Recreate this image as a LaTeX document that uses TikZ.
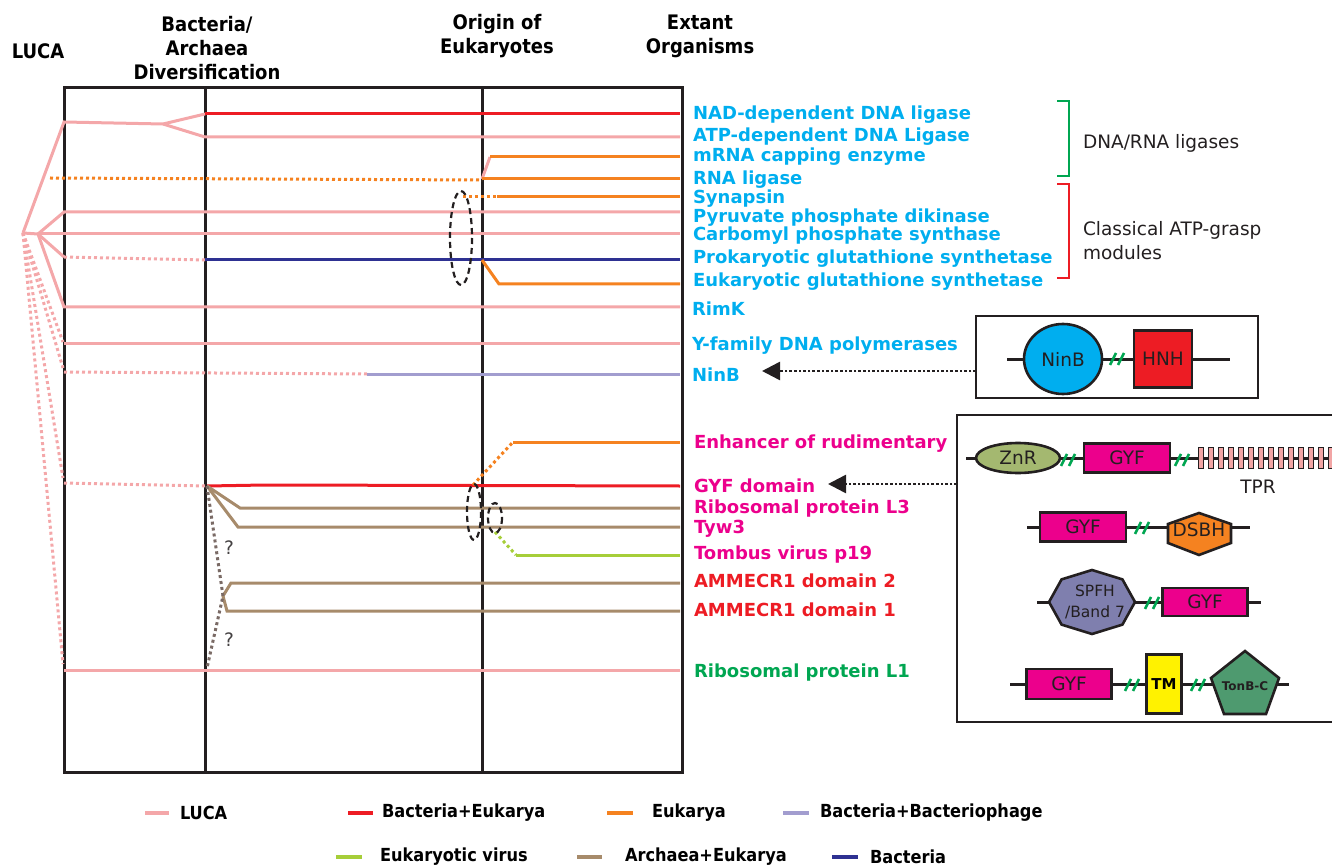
\documentclass[tikz,border=0pt]{standalone}
\usepackage{fontspec}
\setmainfont{DejaVu Sans}
\newfontfamily\condfont{DejaVu Sans Condensed}
\usetikzlibrary{shapes.geometric,arrows.meta}
\definecolor{frame}{HTML}{231F20}
\definecolor{luca}{HTML}{F4A7A9}
\definecolor{bacred}{HTML}{ED1C24}
\definecolor{euk}{HTML}{F58220}
\definecolor{phage}{HTML}{A29DCF}
\definecolor{virus}{HTML}{A6CE39}
\definecolor{arch}{HTML}{A78B6B}
\definecolor{bact}{HTML}{2E3192}
\definecolor{taupe}{HTML}{7A6A65}
\definecolor{lblue}{HTML}{00AEEF}
\definecolor{lmag}{HTML}{EC008C}
\definecolor{lgreen}{HTML}{00A651}
\definecolor{znr}{HTML}{A4B870}
\definecolor{tprpink}{HTML}{F2A5A5}
\definecolor{spfh}{HTML}{7F7FAE}
\definecolor{tonb}{HTML}{4E9A6F}
\definecolor{tmyel}{HTML}{FFF200}
\begin{document}
\begin{tikzpicture}[x=1pt,y=-1pt,
	every node/.style={inner sep=0pt,outer sep=0pt},
	hdr/.style={align=center,font=\condfont\bfseries\fontsize{20}{24}\selectfont},
	lbl/.style={anchor=west,text height=13pt,text depth=0pt,font=\bfseries\fontsize{18}{18}\selectfont},
	lgd/.style={anchor=west,font=\condfont\bfseries\fontsize{18}{18}\selectfont},
	dom/.style={font=\fontsize{18.5}{18.5}\selectfont,text=frame},
	dbox/.style={draw=frame,line width=2.6pt},
	chain/.style={draw=frame,line width=3pt},
	gyfbox/.style={dom,dbox,fill=lmag,minimum width=86pt,minimum height=29pt},
	tpr/.style={draw=frame,line width=1.2pt,fill=tprpink,minimum width=5pt,minimum height=21pt},
	trk/.style={line width=3pt},
	dotln/.style={line width=3pt,dash pattern=on 3pt off 3pt},
	swatch/.style={line width=4pt},
	frm/.style={line width=3pt,draw=frame},
	ring/.style={line width=2.2pt,dash pattern=on 6pt off 4pt,draw=frame},
	pointer/.style={line width=2.6pt,dash pattern=on 2.6pt off 2pt,draw=frame,-{Triangle[length=18pt,width=18pt]}},
	brk/.pic={\draw[lgreen,line width=2.6pt] (-7,6) -- (-1,-6) (1,6) -- (7,-6);}
]
\useasboundingbox (0,0) rectangle (1332,866);
% time columns
\node[hdr] (hluca) at (38,51) {LUCA};
\node[hdr] (hdiv) at (207,48) {Bacteria/\\Archaea\\Diversification};
\node[hdr] (horig) at (497,36) {Origin of\\Eukaryotes};
\node[hdr] (hext) at (700,36) {Extant\\Organisms};
\draw[frm] (64,88) rectangle (682,772);
\draw[frm] (205,88) -- (205,772) (482,88) -- (482,772);
% branch points
\coordinate (A) at (23,233);
\coordinate (B) at (38,234);
\coordinate (F) at (163,124);
\coordinate (G) at (207,486);
% upper group
\draw[trk,luca] (A) -- (64,122) -- (F) -- (205,114);
\draw[trk,bacred] (205,114) -- (680,114);
\draw[trk,luca] (F) -- (205,137) -- (680,137);
\draw[trk,luca] (482,179) -- (490,157);
\draw[trk,euk] (490,157) -- (680,157);
\draw[dotln,euk] (50,178) -- (482,180);
\draw[trk,euk] (482,179) -- (680,179);
\draw[dotln,euk] (463,197) -- (497,197);
\draw[trk,euk] (497,197) -- (680,197);
\draw[trk,luca] (A) -- (B);
\draw[trk,luca] (B) -- (64,212) -- (680,212);
\draw[trk,luca] (B) -- (64,234) -- (680,234);
\draw[trk,luca] (B) -- (64,257);
\draw[dotln,luca] (64,257) -- (205,260);
\draw[trk,bact] (205,260) -- (680,260);
\draw[trk,euk] (482,260) -- (499,284) -- (680,284);
\draw[trk,luca] (B) -- (64,307) -- (680,307);
\draw[dotln,luca] (A) -- (63,342);
\draw[trk,luca] (64,343) -- (680,343);
\draw[dotln,luca] (A) -- (63,368);
\draw[dotln,luca] (64,372) -- (367,374);
\draw[trk,phage] (367,374) -- (680,374);
\draw[ring] (461,238) ellipse [x radius=11, y radius=47];
% lower group
\draw[dotln,luca] (A) -- (63,478);
\draw[dotln,luca] (64,483) -- (G);
\draw[trk,bacred] (G) -- (265,485) -- (680,486);
\draw[trk,arch] (G) -- (240,508) -- (680,508);
\draw[trk,arch] (G) -- (238,527) -- (680,527);
\draw[dotln,euk] (473,485) -- (513,442);
\draw[trk,euk] (513,442) -- (680,442);
\draw[dotln,virus] (495,532) -- (516,555);
\draw[trk,virus] (516,555) -- (680,555);
\draw[trk,arch] (680,583) -- (231,583) -- (223,596) -- (227,611) -- (680,611);
\draw[dotln,taupe] (G) -- (223,596) -- (207,668);
\draw[dotln,luca] (A) -- (63,664);
\draw[trk,luca] (64,670) -- (680,670);
\node[dom,text=frame!85] (q1) at (229,548) {?};
\node[dom,text=frame!85] (q2) at (229,640) {?};
\draw[ring] (474,512) ellipse [x radius=7, y radius=28];
\draw[ring] (495,518) ellipse [x radius=7, y radius=15];
% extant proteins
\node[lbl,lblue] (nad) at (693,113) {NAD-dependent DNA ligase};
\node[lbl,lblue] (atp) at (693,135) {ATP-dependent DNA Ligase};
\node[lbl,lblue] (mrna) at (693,155) {mRNA capping enzyme};
\node[lbl,lblue] (rnalig) at (693,178) {RNA ligase};
\node[lbl,lblue] (syn) at (693,197) {Synapsin};
\node[lbl,lblue] (ppdk) at (693,216) {Pyruvate phosphate dikinase};
\node[lbl,lblue] (cps) at (693,234) {Carbomyl phosphate synthase};
\node[lbl,lblue] (pgs) at (693,257) {Prokaryotic glutathione synthetase};
\node[lbl,lblue] (egs) at (693,280) {Eukaryotic glutathione synthetase};
\node[lbl,lblue] (rimk) at (692,309) {RimK};
\node[lbl,lblue] (ypol) at (692,344) {Y-family DNA polymerases};
\node[lbl,lblue] (ninb) at (692,375) {NinB};
\node[lbl,lmag] (enh) at (694,442) {Enhancer of rudimentary};
\node[lbl,lmag] (gyf) at (694,486) {GYF domain};
\node[lbl,lmag] (rpl3) at (694,507) {Ribosomal protein L3};
\node[lbl,lmag] (tyw) at (694,527) {Tyw3};
\node[lbl,lmag] (tomb) at (694,553) {Tombus virus p19};
\node[lbl,bacred] (amm2) at (694,581) {AMMECR1 domain 2};
\node[lbl,bacred] (amm1) at (694,610) {AMMECR1 domain 1};
\node[lbl,lgreen] (rpl1) at (694,671) {Ribosomal protein L1};
% families
\draw[lgreen,line width=1.6pt] (1057,101) -- (1069,101) -- (1069,176) -- (1057,176);
\draw[bacred,line width=1.6pt] (1057,184) -- (1069,184) -- (1069,278) -- (1057,278);
\node[dom,anchor=west] (ligs) at (1083,143) {DNA/RNA ligases};
\node[dom,anchor=west,align=left,font=\fontsize{18.5}{24}\selectfont] (grasp) at (1083,241) {Classical ATP-grasp\\modules};
% NinB architecture
\draw[draw=frame,line width=2.2pt] (976,316) rectangle (1258,398);
\draw[chain] (1007,359) -- (1230,359);
\node[dom,dbox,ellipse,fill=lblue,minimum width=78pt,minimum height=70pt] (dninb) at (1063,359) {NinB};
\pic at (1117,359) {brk};
\node[dom,dbox,fill=bacred,minimum width=58pt,minimum height=57pt] (dhnh) at (1163,359) {HNH};
\draw[pointer] (976,371) -- (762,371);
% GYF architectures
\draw[draw=frame,line width=2.2pt] (1332,415) -- (957,415) -- (957,722) -- (1332,722);
\draw[pointer] (957,484) -- (828,484);
\draw[chain] (966,458) -- (1332,458);
\node[dom,dbox,ellipse,fill=znr,minimum width=84pt,minimum height=30pt] (dznr) at (1018,458) {ZnR};
\pic at (1068,460) {brk};
\node[gyfbox] (dgyf1) at (1127,458) {GYF};
\pic at (1182,460) {brk};
\foreach \i in {0,...,13}
	\node[tpr] (tpr\i) at (1201+10*\i,458) {};
\node[dom] (dtpr) at (1258,487) {TPR};
\draw[chain] (1027,527) -- (1250,527);
\node[gyfbox] (dgyf2) at (1083,527) {GYF};
\pic at (1142,528) {brk};
\draw[dbox,fill=euk] (1199,513) -- (1231,524) -- (1231,543) -- (1199,555) -- (1168,543) -- (1168,524) -- cycle;
\node[dom] (ddsbh) at (1199,530) {DSBH};
\draw[chain] (1037,602) -- (1261,602);
\draw[dbox,fill=spfh] (1135,602) \foreach \a in {45,90,...,315}{ -- ({1092+43*cos(\a)},{602+32*sin(\a)})} -- cycle;
\node[dom,align=center,font=\fontsize{15.5}{21}\selectfont] (dspfh) at (1095,602) {SPFH\\/Band 7};
\pic at (1152,603) {brk};
\node[gyfbox,minimum width=85pt,minimum height=28pt] (dgyf3) at (1205,602) {GYF};
\draw[chain] (1010,684) -- (1289,684);
\node[gyfbox,minimum width=85pt,minimum height=30pt] (dgyf4) at (1069,684) {GYF};
\pic at (1132,685) {brk};
\node[dbox,fill=tmyel,minimum width=35pt,minimum height=59pt,font=\bfseries\fontsize{15}{15}\selectfont] (dtm) at (1164,684) {TM};
\pic at (1198,685) {brk};
\draw[dbox,fill=tonb] (1245,651) -- (1279,678) -- (1266,714) -- (1224,714) -- (1211,678) -- cycle;
\node[font=\bfseries\fontsize{12}{12}\selectfont,text=frame] (dtonb) at (1245,686) {TonB-C};
% legend
\draw[swatch,luca] (145,813) -- (169,813);
\node[lgd] (kluca) at (180,813) {LUCA};
\draw[swatch,bacred] (348,813) -- (373,813);
\node[lgd] (kbe) at (382,813) {Bacteria+Eukarya};
\draw[swatch,euk] (607,813) -- (633,813);
\node[lgd] (keuk) at (652,813) {Eukarya};
\draw[swatch,phage] (783,813) -- (809,813);
\node[lgd] (kphage) at (820,813) {Bacteria+Bacteriophage};
\draw[swatch,virus] (336,857) -- (362,857);
\node[lgd] (kvir) at (380,857) {Eukaryotic virus};
\draw[swatch,arch] (577,857) -- (602,857);
\node[lgd] (karch) at (625,857) {Archaea+Eukarya};
\draw[swatch,bact] (832,857) -- (858,857);
\node[lgd] (kbact) at (870,857) {Bacteria};
\end{tikzpicture}
\end{document}
